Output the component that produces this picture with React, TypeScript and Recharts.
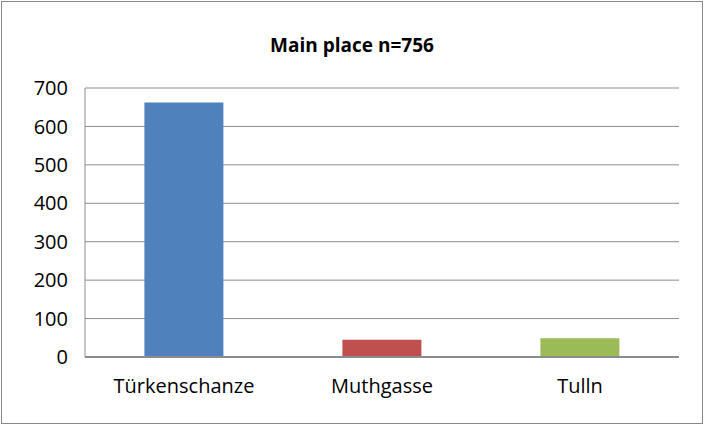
import React from 'react';
import { BarChart, Bar, XAxis, YAxis, CartesianGrid, Cell } from 'recharts';

const places = ['Türkenschanze', 'Muthgasse', 'Tulln'];
const counts = [662, 45, 49];
const colors = ['#4F81BD', '#C0504D', '#9BBB59'];
const yTicks = [0, 100, 200, 300, 400, 500, 600, 700];

const data = places.map((name, i) => ({ name, value: counts[i] }));

const FONT = '"Open Sans", "Noto Sans", sans-serif';

export default function App() {
  return (
    <div style={{ position: 'fixed', left: 0, top: 0, width: 704, height: 425, background: '#fff' }}>
      <div style={{ position: 'absolute', left: 1, top: 1, width: 700, height: 421, border: '1px solid #888' }} />
      <div
        style={{
          position: 'absolute', left: 0, top: 32, width: 704, textAlign: 'center',
          fontFamily: FONT, fontWeight: 'bold', fontSize: 19, color: '#000',
        }}
      >
        Main place n=756
      </div>
      <div style={{ position: 'absolute', left: 0, top: 0 }}>
        <BarChart
          width={704}
          height={425}
          data={data}
          margin={{ top: 88, right: 25, bottom: 38, left: 0 }}
          barCategoryGap="30%"
        >
          <CartesianGrid vertical={false} stroke="#8c8c8c" />
          <XAxis
            dataKey="name"
            height={30}
            tickLine={false}
            axisLine={{ stroke: '#8c8c8c', strokeWidth: 2 }}
            tick={{ fill: '#000', fontSize: 20, fontFamily: FONT }}
            tickSize={0}
            tickMargin={22}
          />
          <YAxis
            width={85}
            domain={[0, 700]}
            ticks={yTicks}
            interval={0}
            tickLine={false}
            axisLine={{ stroke: '#8c8c8c' }}
            tick={{ fill: '#000', fontSize: 20, fontFamily: FONT }}
            tickSize={0}
            tickMargin={17}
          />
          <Bar dataKey="value" isAnimationActive={false}>
            {data.map((d, i) => (
              <Cell key={d.name} fill={colors[i]} />
            ))}
          </Bar>
        </BarChart>
      </div>
    </div>
  );
}
